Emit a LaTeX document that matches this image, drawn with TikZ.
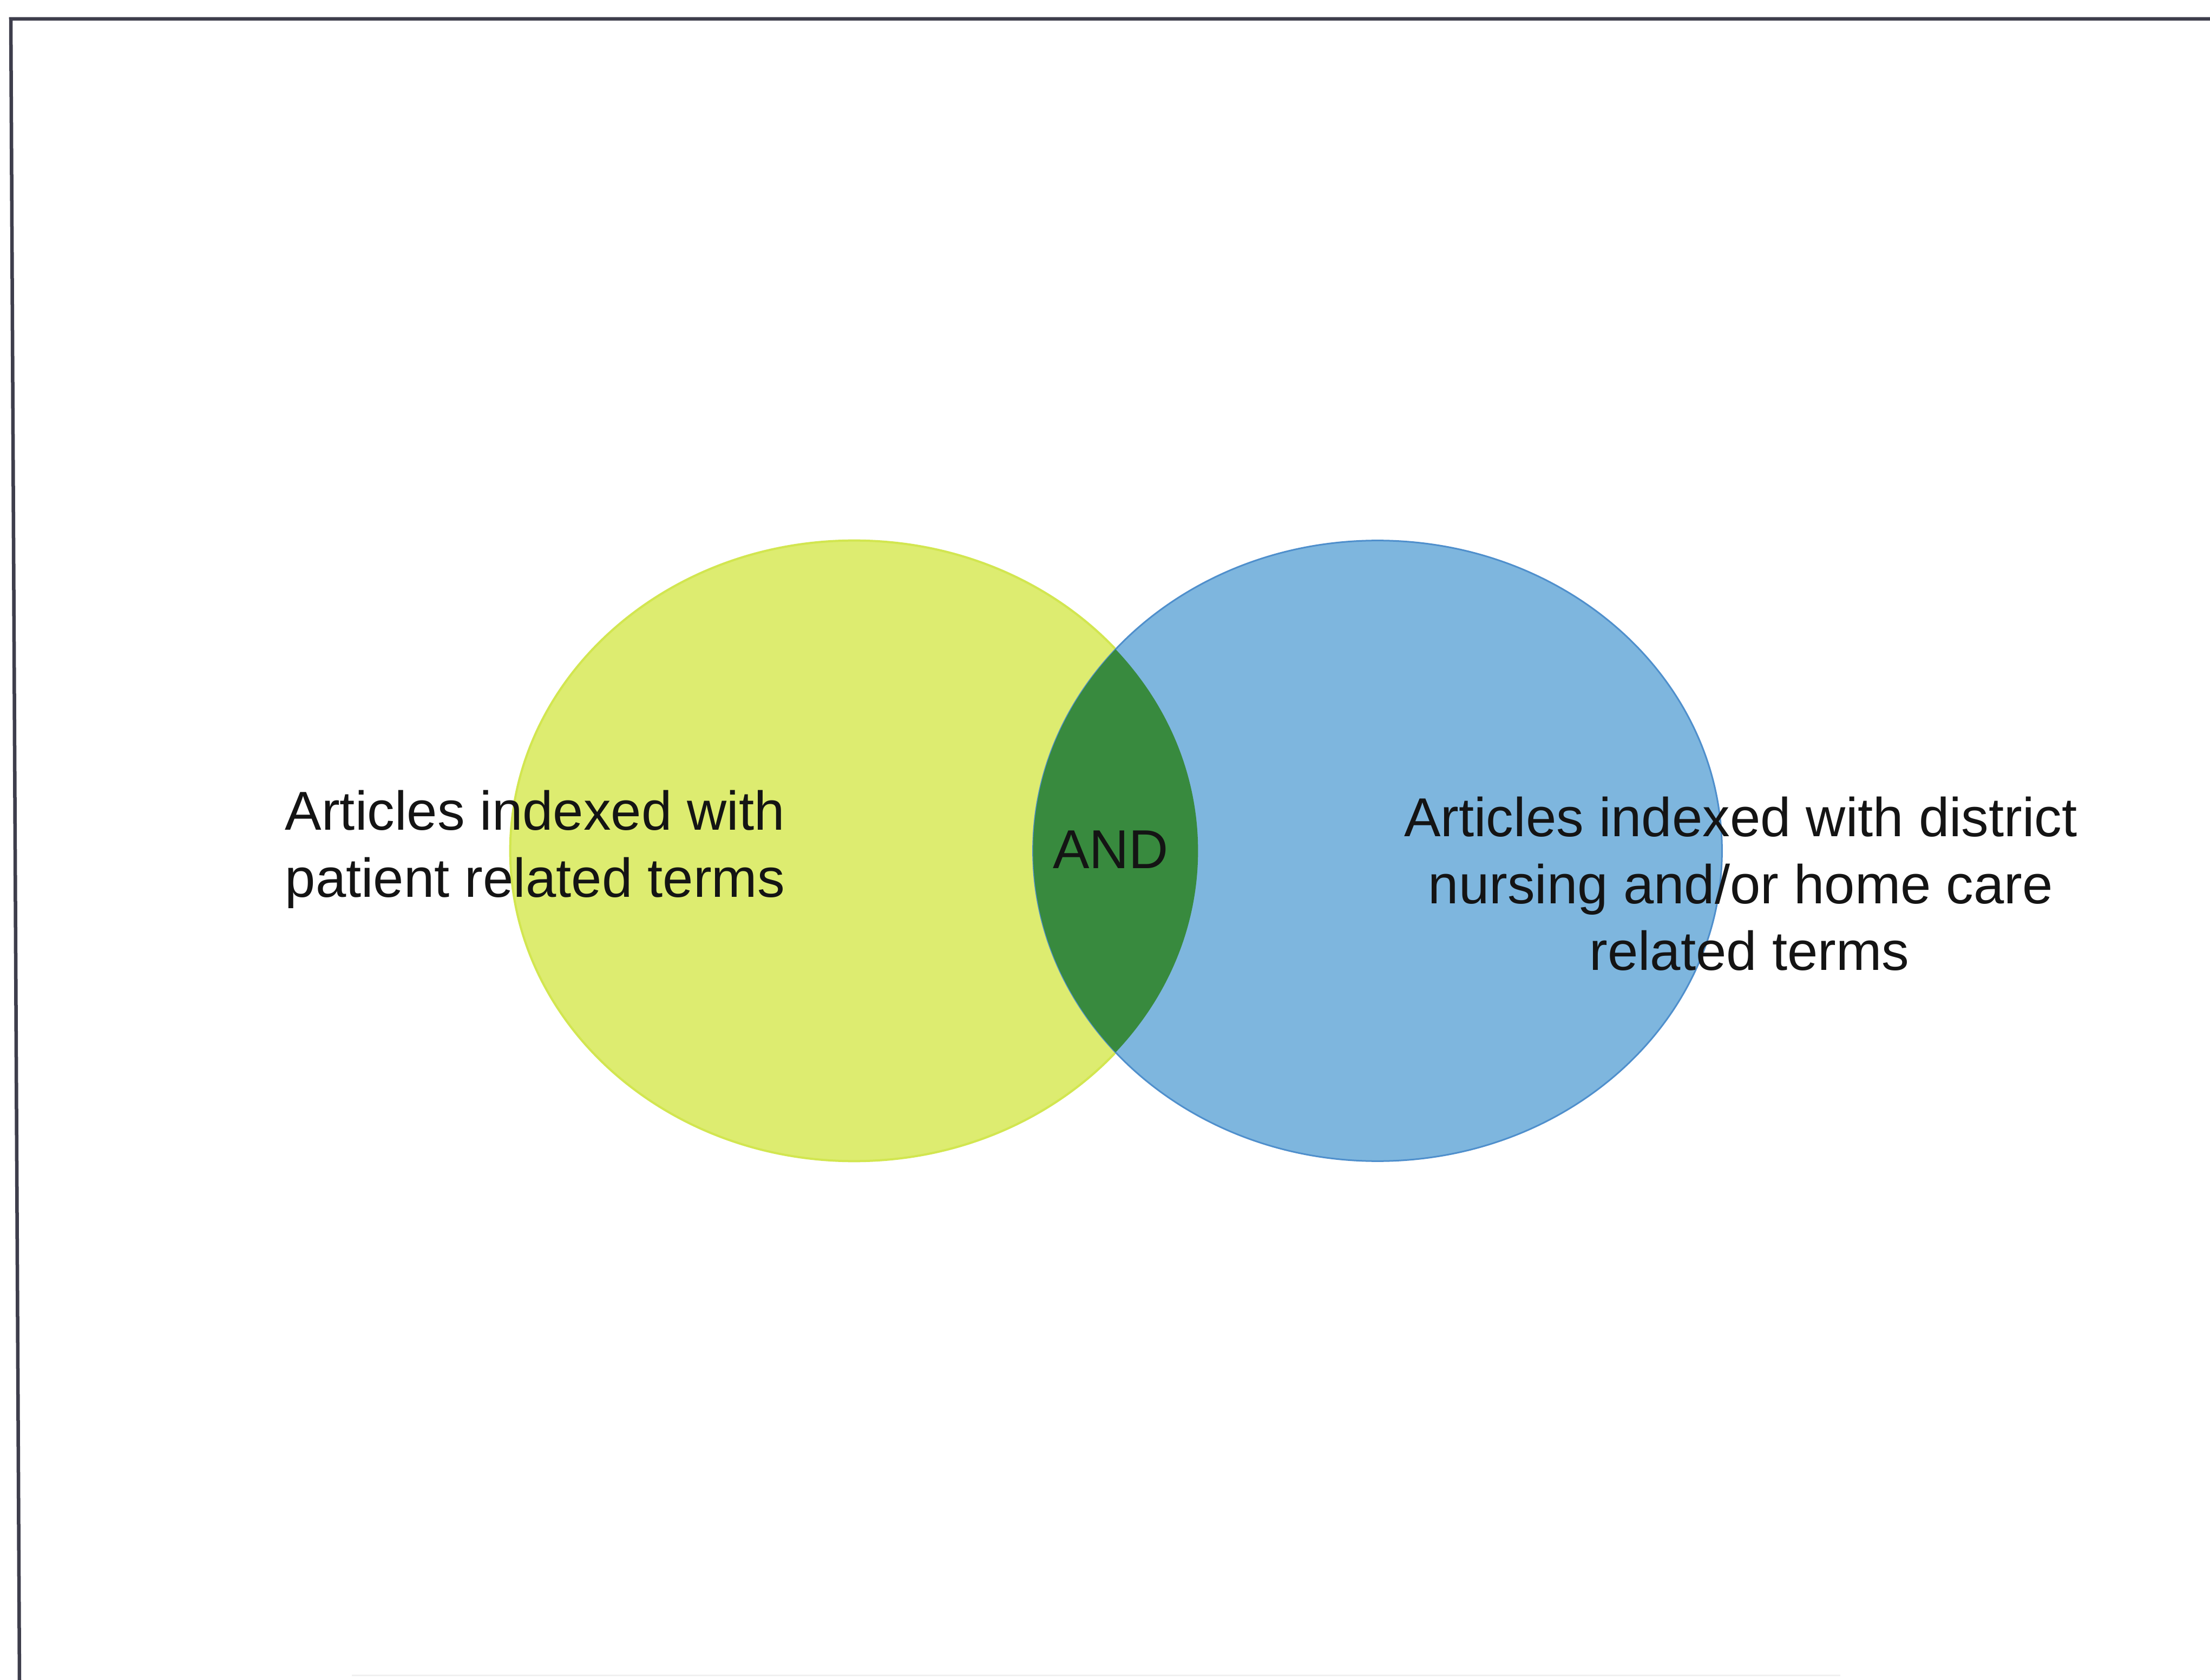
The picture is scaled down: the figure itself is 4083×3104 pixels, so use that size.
\documentclass[tikz,border=0pt]{standalone}
\usepackage{fontspec}
\setmainfont{Liberation Sans}
\definecolor{setyellow}{HTML}{DDEC70}
\definecolor{setyellowedge}{HTML}{D2E650}
\definecolor{setblue}{HTML}{7EB6DE}
\definecolor{setblueedge}{HTML}{4F8FCC}
\definecolor{lensgreen}{HTML}{388A3E}
\definecolor{framegray}{HTML}{3E3E4C}
\newcommand{\labelfont}{\fontsize{28.8}{35}\selectfont}
\begin{document}
\begin{tikzpicture}[x=0.01cm,y=-0.01cm,
  frameline/.style={draw=framegray,line width=0.065cm,line cap=round},
  setlabel/.style={inner sep=0pt,text=black!92,font=\labelfont}]
\useasboundingbox[fill=white] (0,0) rectangle (4083,3104);

% outer frame
\coordinate (ftl) at (20,35);
\coordinate (ftr) at (4083,35);
\coordinate (fbl) at (36,3104);
\draw[frameline] (ftr) -- (ftl) -- (fbl);
\draw[gray!12,line width=0.03cm] (650,3095) -- (3400,3095);

% the two sets
\fill[setyellow] (1578,1572) ellipse [x radius=6.35cm, y radius=5.73cm];
\draw[setyellowedge,line width=0.04cm] (1578,1572) ellipse [x radius=6.35cm, y radius=5.73cm];
\fill[setblue] (2545,1572) ellipse [x radius=6.36cm, y radius=5.73cm];
\draw[setblueedge,line width=0.03cm] (2545,1572) ellipse [x radius=6.36cm, y radius=5.73cm];

% their intersection
\begin{scope}
  \clip (1578,1572) ellipse [x radius=6.35cm, y radius=5.73cm];
  \fill[lensgreen] (2545,1572) ellipse [x radius=6.36cm, y radius=5.73cm];
\end{scope}

% labels
\node[setlabel,anchor=base west] (lefttxt) at (526,1534)
  {\vtop{\hbox{Articles indexed with}\hbox{patient related terms}}};
\node[setlabel,anchor=base] (andtxt) at (2052,1604) {AND};
\node[setlabel,anchor=base] (righttxt) at (3216,1546)
  {\vtop{\halign{\hfil#\hfil\cr Articles indexed with district\cr nursing and/or home care\cr \hskip 9pt related terms\cr}}};
\end{tikzpicture}
\end{document}
